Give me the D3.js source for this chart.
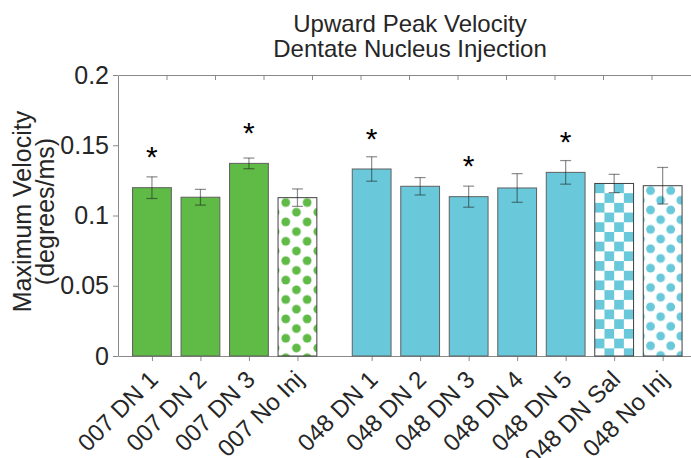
<!DOCTYPE html>
<html>
<head>
<meta charset="utf-8">
<script src="https://cdn.jsdelivr.net/npm/d3@7"></script>
<style>
    body { margin: 0; background: #fff; }
    text { font-family: "Liberation Sans", Arial, sans-serif; }
</style>
</head>
<body>
<svg id="chart" width="691" height="458"></svg>
<script>
// values
const categories = ['007 DN 1', '007 DN 2', '007 DN 3', '007 No Inj',
    '048 DN 1', '048 DN 2', '048 DN 3', '048 DN 4', '048 DN 5', '048 DN Sal', '048 No Inj']
const means = [0.1198, 0.1130, 0.1371, 0.1127, 0.1331, 0.1208, 0.1134, 0.1196, 0.1307, 0.1228, 0.1212]
const sems = [0.0077, 0.0056, 0.0038, 0.0062, 0.0087, 0.0062, 0.0075, 0.0102, 0.0084, 0.0065, 0.0130]
const groups = [0, 0, 0, 0, 1, 1, 1, 1, 1, 1, 1]
const fills = ['solid', 'solid', 'solid', 'dots', 'solid', 'solid', 'solid', 'solid', 'solid', 'checker', 'dots']
const significant = [true, false, true, false, true, false, true, false, true, false, false]
const yTicks = [0, 0.05, 0.1, 0.15, 0.2]
const yTickLabels = ['0', '0.05', '0.1', '0.15', '0.2']
const topTicks = [1, 2, 3, 4, 5, 6, 7, 8, 9, 10, 11]
const titleLines = ['Upward Peak Velocity', 'Dentate Nucleus Injection']
const yLabelLines = ['Maximum Velocity', '(degrees/ms)']

const groupColors = ['#5fba46', '#69c9db']
const axisColor = '#8a8a8a'
const textColor = '#262626'

const svg = d3.select('#chart')
const defs = svg.append('defs')

const x = d3.scaleLinear().domain([0, 12]).range([118, 700])
const y = d3.scaleLinear().domain([0, 0.2]).range([356, 75])

// bar centres: second animal shifted right to leave a gap
const pos = categories.map((c, i) => i + 0.7 + groups[i] * 0.53)
const barW = x(0.8) - x(0)

// one pattern per hatched bar so the tiles start at the bar corner
categories.forEach((c, i) => {
    if (fills[i] == 'solid') return
    const color = groupColors[groups[i]]
    const left = x(pos[i]) - barW / 2
    const top = y(means[i])
    if (fills[i] == 'dots') {
        const w = groups[i] ? 20.2 : 21.4, h = 19.4
        const p = defs.append('pattern')
            .attr('id', 'pat' + i)
            .attr('patternUnits', 'userSpaceOnUse')
            .attr('x', left).attr('y', top)
            .attr('width', w).attr('height', h)
        p.append('rect').attr('width', w).attr('height', h).attr('fill', '#fff')
        ;[[w * 0.36, h * 0.25], [w * 0.86, h * 0.75], [w * -0.14, h * 0.75]].forEach(d => {
            p.append('circle').attr('cx', d[0]).attr('cy', d[1]).attr('r', 4.4).attr('fill', color)
        })
    } else {
        const s = barW / 4
        const p = defs.append('pattern')
            .attr('id', 'pat' + i)
            .attr('patternUnits', 'userSpaceOnUse')
            .attr('x', left).attr('y', top)
            .attr('width', s * 2).attr('height', s * 2)
        p.append('rect').attr('width', s * 2).attr('height', s * 2).attr('fill', '#fff')
        p.append('rect').attr('width', s).attr('height', s).attr('fill', color)
        p.append('rect').attr('x', s).attr('y', s).attr('width', s).attr('height', s).attr('fill', color)
    }
})

// axes
const styleAxis = g => {
    g.attr('color', axisColor)
        .attr('font-family', '"Liberation Sans", Arial, sans-serif')
    g.selectAll('text').attr('fill', textColor)
}

svg.append('g')
    .attr('transform', `translate(0, ${y(0.2)})`)
    .call(d3.axisBottom(x).tickValues(topTicks).tickFormat('').tickSize(5).tickSizeOuter(0))
    .call(styleAxis)

const xAxisGroup = svg.append('g')
    .attr('transform', `translate(0, ${y(0)})`)
    .call(d3.axisBottom(x).tickValues(pos).tickFormat((d, i) => categories[i]).tickSize(5).tickSizeOuter(0))
    .attr('font-size', 24)
    .call(styleAxis)

xAxisGroup.selectAll('text')
    .attr('x', 0).attr('y', 0).attr('dy', 0)
    .attr('text-anchor', 'end')
    .attr('transform', 'translate(7, 25) rotate(-45)')

svg.append('g')
    .attr('transform', `translate(${x(0)}, 0)`)
    .call(d3.axisLeft(y).tickValues(yTicks).tickFormat((d, i) => yTickLabels[i]).tickSize(5).tickSizeOuter(0).tickPadding(4))
    .attr('font-size', 25)
    .call(styleAxis)

// bars
svg.append('g').selectAll('rect')
    .data(means)
    .enter()
    .append('rect')
        .attr('x', (d, i) => x(pos[i]) - barW / 2)
        .attr('y', d => y(d))
        .attr('width', barW)
        .attr('height', d => y(0) - y(d))
        .attr('fill', (d, i) => fills[i] == 'solid' ? groupColors[groups[i]] : `url(#pat${i})`)
        .attr('stroke', (d, i) => fills[i] == 'solid' ? '#606060' : '#404040')
        .attr('stroke-width', 1)

// error bars
const errs = svg.append('g')
    .attr('stroke', '#1a1a1a')
    .attr('stroke-opacity', 0.5)
    .attr('stroke-width', 1.2)

means.forEach((m, i) => {
    const cx = x(pos[i])
    errs.append('line').attr('x1', cx).attr('x2', cx).attr('y1', y(m - sems[i])).attr('y2', y(m + sems[i]))
    errs.append('line').attr('x1', cx - 5.5).attr('x2', cx + 5.5).attr('y1', y(m - sems[i])).attr('y2', y(m - sems[i]))
    errs.append('line').attr('x1', cx - 5.5).attr('x2', cx + 5.5).attr('y1', y(m + sems[i])).attr('y2', y(m + sems[i]))
})

// significance stars
svg.append('g').selectAll('text')
    .data(means.map((m, i) => ({m, i})).filter(d => significant[d.i]))
    .enter()
    .append('text')
        .attr('x', d => x(pos[d.i]))
        .attr('y', d => y(d.m + 0.0265) + 17)
        .attr('text-anchor', 'middle')
        .attr('font-size', 30)
        .attr('fill', '#000')
        .text('*')

// title
svg.append('g').selectAll('text')
    .data(titleLines)
    .enter()
    .append('text')
        .attr('x', 410)
        .attr('y', (d, i) => 32 + i * 25)
        .attr('text-anchor', 'middle')
        .attr('font-size', 24)
        .attr('fill', textColor)
        .text(d => d)

// y label
svg.append('g')
    .attr('transform', `translate(31, ${(y(0) + y(0.2)) / 2 - 4}) rotate(-90)`)
    .selectAll('text')
    .data(yLabelLines)
    .enter()
    .append('text')
        .attr('x', 0)
        .attr('y', (d, i) => i * 23)
        .attr('text-anchor', 'middle')
        .attr('font-size', 25)
        .attr('fill', textColor)
        .text(d => d)
</script>
</body>
</html>
